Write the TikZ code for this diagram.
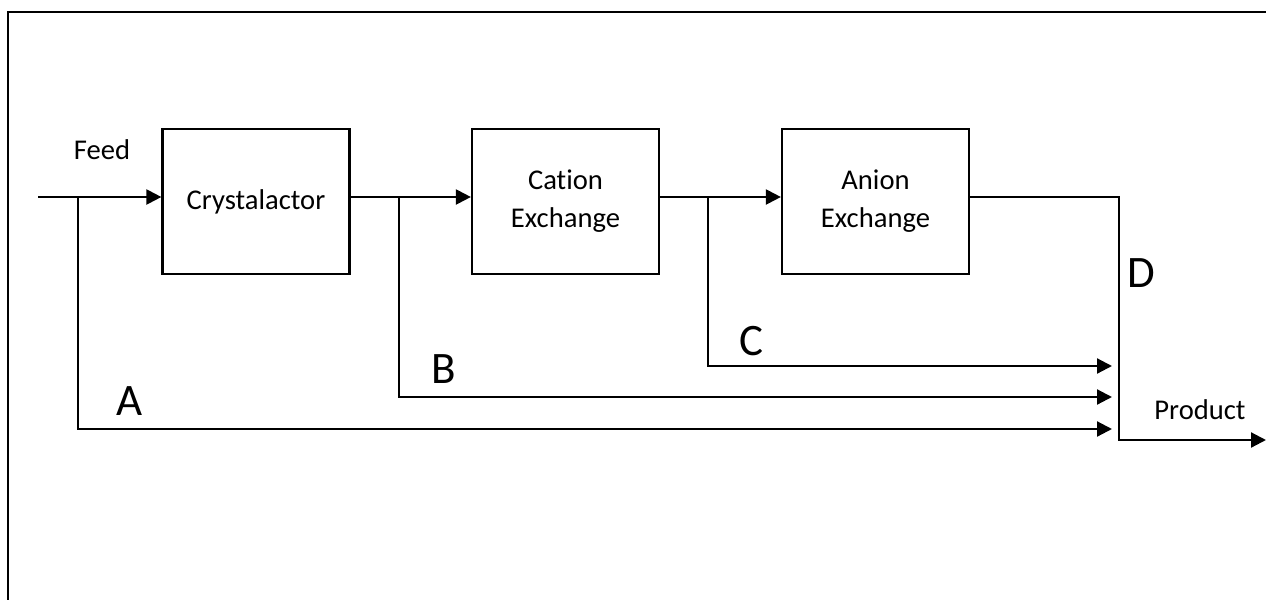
\documentclass[tikz,border=0pt]{standalone}
\usepackage{fontspec}
\setmainfont{Carlito}[Ligatures=NoCommon]
\usetikzlibrary{arrows.meta}
\tikzset{
  unit/.style={draw,line width=1.1pt,minimum width=93.5pt,minimum height=72.5pt,
    align=center,font=\fontsize{14.3}{19}\selectfont},
  pipe/.style={line width=1.1pt},
  flow/.style={pipe,-{Triangle[length=7.5pt,width=7.5pt]}},
  tag/.style={anchor=base,font=\fontsize{22.5}{27}\selectfont},
  note/.style={anchor=base,font=\fontsize{14.3}{17}\selectfont}
}
\begin{document}
\begin{tikzpicture}[x=0.5pt,y=-0.5pt]
      \useasboundingbox (0,0) rectangle (1266,600);
      \draw[pipe] (8,600) -- (8,12) -- (1266,12);

      % treatment units
      \node[unit] (crys) at (256,201.5) {Crystalactor};
      \node[unit] (cat) at (565.5,201.5) {Cation\\Exchange};
      \node[unit] (an) at (875.5,201.5) {Anion\\Exchange};

      % split and end points
      \coordinate (in) at (38,197);
      \coordinate (sA) at (78,197);
      \coordinate (sB) at (399,197);
      \coordinate (sC) at (708,197);
      \coordinate (mix) at (1119,197);
      \coordinate (endA) at (1112,429);
      \coordinate (endB) at (1112,397);
      \coordinate (endC) at (1112,366);
      \coordinate (out) at (1266,440);

      \draw[flow] (in) -- (crys.west|-in);
      \draw[flow] (crys.east|-in) -- (cat.west|-in);
      \draw[flow] (cat.east|-in) -- (an.west|-in);
      \draw[flow] (an.east|-in) -- (mix) |- (out);
      \draw[flow] (sA) |- (endA);
      \draw[flow] (sB) |- (endB);
      \draw[flow] (sC) |- (endC);

      % labels
      \node[note] (feed) at (102,159) {Feed};
      \node[note] (prod) at (1200,419) {Product};
      \node[tag] (lA) at (130,415) {A};
      \node[tag] (lB) at (444,383) {B};
      \node[tag] (lC) at (751,355) {C};
      \node[tag] (lD) at (1141,287) {D};
\end{tikzpicture}
\end{document}
